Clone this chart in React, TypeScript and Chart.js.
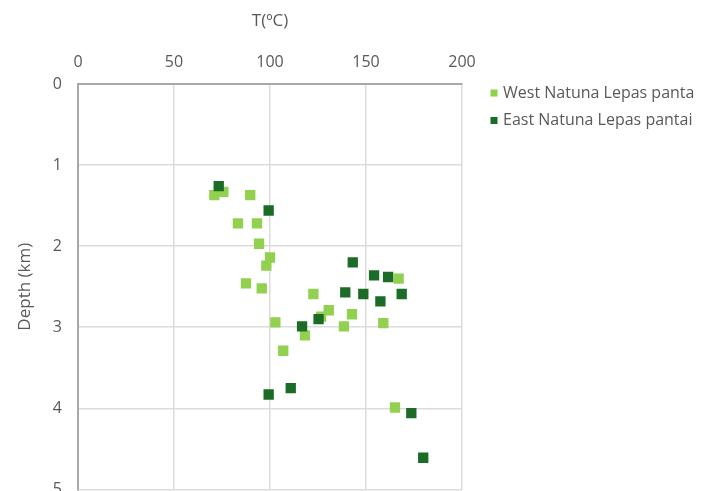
import React, { useEffect, useRef } from "react";
import { Chart, registerables } from "chart.js";

Chart.register(...registerables);

const xTicks = [0, 50, 100, 150, 200];
const yTicks = [0, 1, 2, 3, 4, 5];

const westLabel = "West Natuna Lepas panta";
const westTemp = [71, 75.7, 89.7, 83.3, 93.2, 94.3, 100, 98.1, 87.5, 95.7, 122.6, 167, 130.6, 126.6, 142.7, 159, 138.5, 102.8, 118.2, 106.9, 165.1];
const westDepth = [1.37, 1.33, 1.37, 1.72, 1.72, 1.97, 2.14, 2.24, 2.46, 2.52, 2.59, 2.4, 2.79, 2.87, 2.84, 2.95, 2.99, 2.94, 3.1, 3.29, 3.99];

const eastLabel = "East Natuna Lepas pantai";
const eastTemp = [73.3, 99.3, 143.1, 154.2, 161.5, 139.2, 148.6, 168.6, 157.5, 125.3, 116.7, 99.3, 110.8, 173.6, 179.8];
const eastDepth = [1.26, 1.56, 2.2, 2.36, 2.38, 2.57, 2.59, 2.59, 2.68, 2.9, 2.99, 3.83, 3.75, 4.06, 4.61];

const WEST_COLOR = "#92d050";
const EAST_COLOR = "#1c6b26";
const TEXT = "#595959";
const FONT = "'Open Sans', sans-serif";

const W = 722;
const H = 515;

const legendPlugin = {
  id: "sideLegend",
  afterDraw(chart: any) {
    const ctx = chart.ctx;
    ctx.save();
    ctx.font = `16px ${FONT}`;
    ctx.textBaseline = "middle";
    ctx.textAlign = "left";
    chart.data.datasets.forEach((ds: any, i: number) => {
      const cy = 93 + i * 27.5;
      ctx.fillStyle = ds.backgroundColor;
      ctx.fillRect(490.5, cy - 3.5, 7, 7);
      ctx.fillStyle = TEXT;
      ctx.fillText(ds.label, 503, cy);
    });
    ctx.restore();
  },
};

export default function App() {
  const ref = useRef<HTMLCanvasElement>(null);
  useEffect(() => {
    if (!ref.current) return;
    const chart = new Chart(ref.current, {
      type: "scatter",
      data: {
        datasets: [
          {
            label: westLabel,
            data: westTemp.map((t, i) => ({ x: t, y: westDepth[i] })),
            backgroundColor: WEST_COLOR,
            borderColor: WEST_COLOR,
            pointStyle: "rect",
            pointRadius: 7.3,
            borderWidth: 0,
            order: 1,
          },
          {
            label: eastLabel,
            data: eastTemp.map((t, i) => ({ x: t, y: eastDepth[i] })),
            backgroundColor: EAST_COLOR,
            borderColor: EAST_COLOR,
            pointStyle: "rect",
            pointRadius: 7.3,
            borderWidth: 0,
            order: 0,
          },
        ],
      },
      options: {
        animation: false,
        responsive: false,
        layout: { padding: { left: 0, top: 0, right: 260, bottom: 12 } },
        plugins: {
          legend: { display: false },
          tooltip: { enabled: false },
        },
        scales: {
          x: {
            type: "linear",
            position: "top",
            min: 0,
            max: 200,
            afterBuildTicks: (s: any) => {
              s.ticks = xTicks.map((v) => ({ value: v }));
            },
            afterFit: (s: any) => {
              s.height = 84;
            },
            ticks: { color: TEXT, font: { family: FONT, size: 16 }, padding: 12 },
            grid: { color: "#dcdcdc", lineWidth: 1.5, drawTicks: false },
            border: { display: true, color: "#a8a8a8", width: 2 },
            title: {
              display: true,
              text: "T(ºC)",
              color: TEXT,
              font: { family: FONT, size: 17 },
              padding: { top: 11, bottom: 0 },
            },
          },
          y: {
            type: "linear",
            position: "left",
            reverse: true,
            min: 0,
            max: 5,
            afterBuildTicks: (s: any) => {
              s.ticks = yTicks.map((v) => ({ value: v }));
            },
            afterFit: (s: any) => {
              s.width = 78;
            },
            ticks: { color: TEXT, font: { family: FONT, size: 16 }, padding: 16 },
            grid: { color: "#dcdcdc", lineWidth: 1.5, drawTicks: false },
            border: { display: true, color: "#a8a8a8", width: 2 },
            title: {
              display: true,
              text: "Depth (km)",
              color: TEXT,
              font: { family: FONT, size: 17 },
              padding: { top: 15, bottom: 0 },
            },
          },
        },
      },
      plugins: [legendPlugin],
    } as any);
    return () => chart.destroy();
  }, []);
  return (
    <div style={{ position: "absolute", left: 0, top: 0, width: W, height: H, overflow: "hidden" }}>
      <canvas ref={ref} width={W} height={H} style={{ width: W, height: H }} />
    </div>
  );
}
